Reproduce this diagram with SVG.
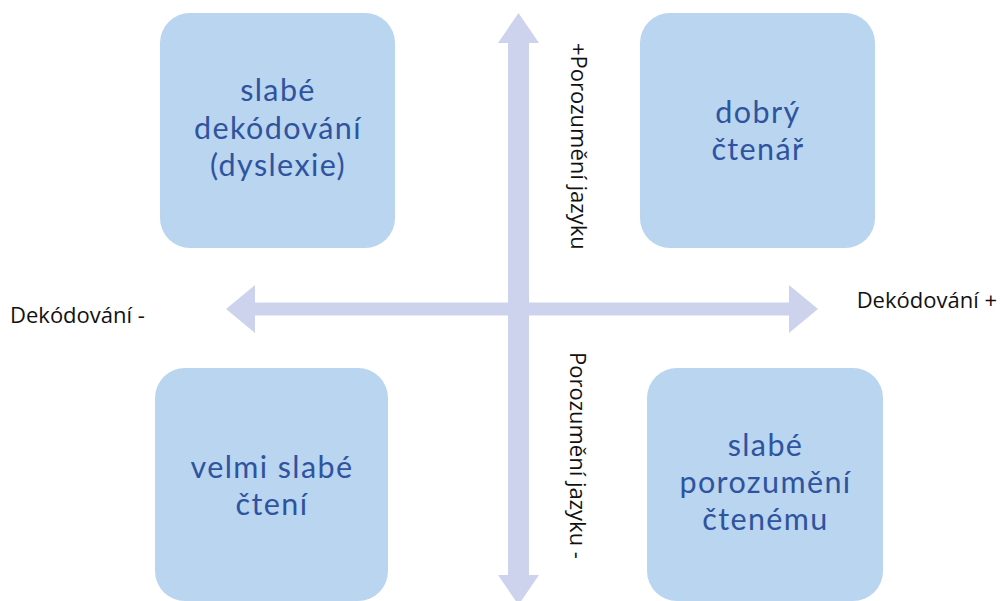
<svg xmlns="http://www.w3.org/2000/svg" width="1006" height="601" viewBox="0 0 1006 601">
  <style>
    .box { fill: #b9d5ef; }
    .axis { fill: #cdd3ed; }
    .cell { font-family: Lato, "Open Sans", sans-serif; font-size: 30.5px; letter-spacing: 1.4px; fill: #2f539e; text-anchor: middle; }
    .lbl { font-family: "Open Sans", "Liberation Sans", sans-serif; font-size: 22px; fill: #111111; }
  </style>
  <rect width="1006" height="601" fill="#ffffff"/>

  <!-- axes: double-headed arrows -->
  <g id="connectors">
    <polygon class="axis" points="226,309 255,285 255,302.5 789,302.5 789,285 818,309 789,333 789,315.5 255,315.5 255,333"/>
    <polygon class="axis" points="518.5,13 539,43 529,43 529,575 539,575 518.5,605 498,575 508,575 508,43 498,43"/>
  </g>

  <g id="weak-decoding">
    <rect class="box" x="160" y="13" width="235" height="235" rx="30"/>
    <text class="cell" x="278" y="101">slabé</text>
    <text class="cell" x="278" y="138.5">dekódování</text>
    <text class="cell" x="278" y="176">(dyslexie)</text>
  </g>

  <g id="good-reader">
    <rect class="box" x="640" y="13" width="235" height="235" rx="30"/>
    <text class="cell" x="758" y="123">dobrý</text>
    <text class="cell" x="758" y="160">čtenář</text>
  </g>

  <g id="very-weak-reading">
    <rect class="box" x="155" y="368" width="233" height="233" rx="30"/>
    <text class="cell" x="272" y="477.5">velmi slabé</text>
    <text class="cell" x="272" y="514.5">čtení</text>
  </g>

  <g id="weak-comprehension">
    <rect class="box" x="647" y="368" width="236" height="233" rx="30"/>
    <text class="cell" x="765.5" y="456">slabé</text>
    <text class="cell" x="765.5" y="493">porozumění</text>
    <text class="cell" x="765.5" y="530">čtenému</text>
  </g>

  <g id="axis-labels">
    <text class="lbl" x="10" y="323">Dekódování -</text>
    <text class="lbl" x="997" y="308" text-anchor="end">Dekódování +</text>
    <text class="lbl" transform="translate(571,43) rotate(90)">+Porozumění jazyku</text>
    <text class="lbl" transform="translate(570,352) rotate(90)">Porozumění jazyku -</text>
  </g>
</svg>
